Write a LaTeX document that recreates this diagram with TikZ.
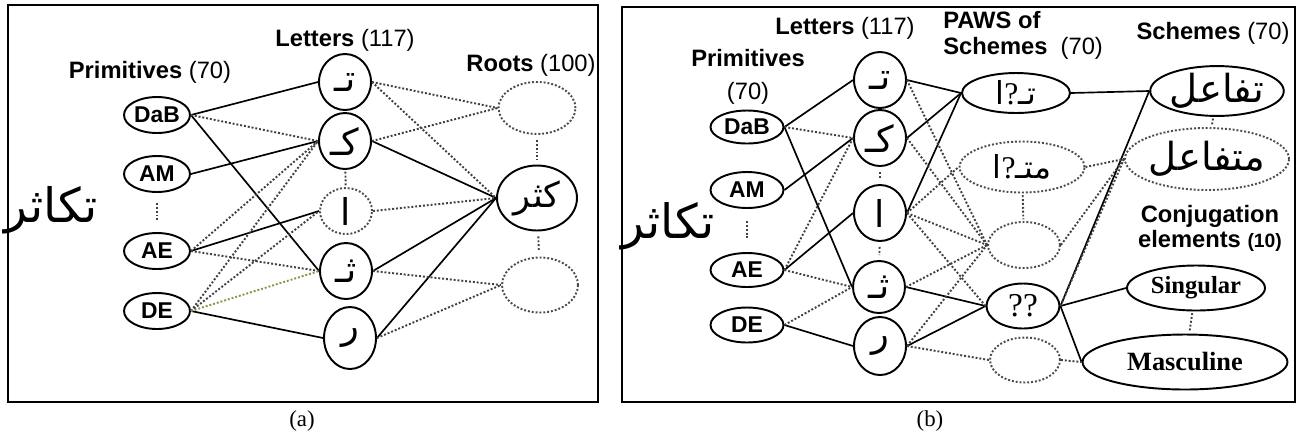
\documentclass[tikz,border=0pt]{standalone}
\usepackage{fontspec}
\setmainfont{Liberation Serif}
\setsansfont{Liberation Sans}
\newfontfamily\arabicfont[Script=Arabic]{DejaVu Sans}
\TeXXeTstate=1
\usetikzlibrary{shapes.geometric}
\definecolor{olivedot}{RGB}{135,150,75}
\newcommand{\artext}[1]{{\arabicfont\beginR #1\endR}}
\newcommand{\arletter}[1]{\hbox{\arabicfont #1}}
\newcommand{\fs}[1]{\fontsize{#1}{#1}\selectfont}

\begin{document}
\begin{tikzpicture}[x=0.02cm,y=-0.02cm,
  every node/.style={inner sep=0pt},
  frame/.style={line width=1pt},
  lab/.style={font=\fs{13.5}\sffamily\bfseries,align=center},
  solid node/.style={ellipse,draw,line width=1.1pt},
  dot node/.style={ellipse,draw=black!70,line width=1.1pt,dash pattern=on 1.1pt off 1.1pt},
  prim node/.style={solid node,font=\fs{13}\sffamily\bfseries,
    minimum width=1.32cm,minimum height=0.72cm},
  letter node/.style={solid node,font=\arabicfont\fs{21},
    minimum width=1.04cm,minimum height=1.12cm},
  letter dot/.style={dot node,font=\arabicfont\fs{21},
    minimum width=1.04cm,minimum height=0.92cm},
  word node/.style={font=\arabicfont\fs{20}},
  link/.style={line width=0.95pt},
  dlink/.style={line width=1.1pt,draw=black!75,dash pattern=on 1.1pt off 1.1pt},
  glink/.style={dlink,draw=olivedot}]

  \useasboundingbox (0,0) rectangle (1299,441);

  % (a) primitives -> letters -> roots
  \draw[frame] (8,5) rectangle (598,402);
  \node[lab] (a_primlab) at (150,72) {Primitives \textmd{(70)}};
  \node[lab] (a_letlab) at (345,40) {Letters \textmd{(117)}};
  \node[lab] (a_rootlab) at (531,65) {Roots \textmd{(100)}};
  \node[font=\fs{27}] (a_word) at (51,210) {\artext{تكاثر}};

  \node[prim node] (a_dab) at (157,115) {DaB};
  \node[prim node] (a_am) at (157,174) {AM};
  \node[prim node] (a_ae) at (157,251) {AE};
  \node[prim node] (a_de) at (157,311) {DE};

  \node[letter node] (a_t) at (345,82) {\arletter{تـ}};
  \node[letter node] (a_k) at (345,141) {\arletter{كـ}};
  \node[letter dot] (a_a) at (346,211) {\arletter{ا}};
  \node[letter node] (a_th) at (346,271) {\arletter{ثـ}};
  \node[letter node,minimum height=1.24cm] (a_r) at (350,338) {\arletter{ر}};

  \node[dot node,minimum width=1.54cm,minimum height=1.04cm] (a_root1) at (537,108) {};
  \node[solid node,word node,minimum width=1.6cm,minimum height=1.3cm] (a_root2) at (537,198) {\artext{كثر}};
  \node[dot node,minimum width=1.52cm,minimum height=1.1cm] (a_root3) at (540,285) {};

  \path[link] (a_dab.east) edge (a_t.west) edge (a_th.west)
    (a_am.east) edge (a_k.west)
    (a_ae.east) edge (a_a.west)
    (a_de.east) edge (a_r.west)
    (a_k.east) edge (a_root2.west)
    (a_th.east) edge (a_root2.west)
    (a_r.east) edge (a_root2.west);
  \path[dlink] (a_dab.east) edge (a_k.west)
    (a_ae.east) edge (a_k.west) edge (a_th.west)
    (a_de.east) edge (a_k.west) edge (a_a.west)
    (a_t.east) edge (a_root1.west) edge (a_root2.west)
    (a_k.east) edge (a_root1.west)
    (a_a.east) edge (a_root2.west)
    (a_th.east) edge (a_root3.west)
    (a_r.east) edge (a_root3.west);
  \draw[glink] (a_de.east) -- (a_th.west);
  \path[dlink,shorten <=0.2cm,shorten >=0.2cm] (a_am) edge (a_ae);
  \path[dlink,shorten <=1pt,shorten >=1pt] (a_k) edge (a_a);
  \path[dlink,shorten <=0.1cm,shorten >=0.1cm] (a_root1) edge (a_root2)
    (a_root2) edge (a_root3);

  \node[font=\fs{13}] (a_cap) at (302,421) {(a)};

  % (b) primitives -> letters -> PAWS -> schemes / conjugation
  \draw[frame] (622,7) rectangle (1295,402);
  \node[lab,font=\fs{13.5}\sffamily\bfseries\linespread{1.4}\selectfont] (b_primlab) at (748,77) {Primitives\\\textmd{(70)}};
  \node[lab] (b_letlab) at (845,28) {Letters \textmd{(117)}};
  \node[lab,align=left,anchor=west,font=\fs{13.5}\sffamily\bfseries\linespread{1.1}\selectfont] (b_pawslab) at (943,35) {PAWS of\\Schemes \ \textmd{(70)}};
  \node[lab] (b_schlab) at (1213,33) {Schemes \textmd{(70)}};
  \node[lab,font=\fs{13.5}\sffamily\bfseries\linespread{1.05}\selectfont] (b_conjlab) at (1210,228) {Conjugation\\elements {\fs{11}(10)}};
  \node[font=\fs{27}] (b_word) at (668,226) {\artext{تكاثر}};

  \node[prim node,minimum width=1.46cm,minimum height=0.66cm] (b_dab) at (747,127) {DaB};
  \node[prim node,minimum width=1.46cm,minimum height=0.72cm] (b_am) at (747,190) {AM};
  \node[prim node,minimum width=1.46cm,minimum height=0.68cm] (b_ae) at (747,270) {AE};
  \node[prim node,minimum width=1.46cm,minimum height=0.7cm] (b_de) at (747,325) {DE};

  \node[letter node] (b_t) at (880,80) {\arletter{تـ}};
  \node[letter node] (b_k) at (880,138) {\arletter{كـ}};
  \node[letter node] (b_a) at (880,213) {\arletter{ا}};
  \node[letter node,minimum height=1.04cm] (b_th) at (879,287) {\arletter{ثـ}};
  \node[letter node,minimum height=1.16cm] (b_r) at (880,346) {\arletter{ر}};

  \node[solid node,minimum width=2.16cm,minimum height=0.8cm,font=\fs{18}] (b_p1) at (1016,93)
    {\arletter{ا}\hbox{?}\arletter{تـ}};
  \node[dot node,minimum width=2.5cm,minimum height=1.02cm,font=\fs{18}] (b_p2) at (1022,167)
    {\arletter{ا}\hbox{?}\arletter{متـ}};
  \node[dot node,minimum width=1.44cm,minimum height=0.92cm] (b_p3) at (1024,245) {};
  \node[solid node,minimum width=1.46cm,minimum height=0.9cm,font=\fs{19}] (b_p4) at (1023,306) {??};
  \node[dot node,minimum width=1.4cm,minimum height=0.9cm] (b_p5) at (1025,360) {};

  \node[solid node,word node,font=\arabicfont\fs{22},minimum width=2.3cm,minimum height=0.96cm] (b_s1) at (1217,91) {\artext{تفاعل}};
  \node[dot node,word node,font=\arabicfont\fs{22},minimum width=2.62cm,minimum height=1.24cm] (b_s2) at (1207,159) {\artext{متفاعل}};
  \node[solid node,font=\fs{14}\bfseries,minimum width=2.76cm,minimum height=0.9cm] (b_c1) at (1196,288) {Singular};
  \node[solid node,font=\fs{15}\bfseries,minimum width=4.1cm,minimum height=1.1cm] (b_c2) at (1185,362) {Masculine};

  \path[link] (b_dab.east) edge (b_t.west) edge (b_th.west)
    (b_am.east) edge (b_k.west)
    (b_ae.east) edge (b_a.west)
    (b_de.east) edge (b_r.west)
    (b_t.east) edge (b_p1.west)
    (b_k.east) edge (b_p1.west)
    (b_a.east) edge (b_p1.west)
    (b_th.east) edge (b_p4.west)
    (b_r.east) edge (b_p4.west)
    (b_p1.east) edge (b_s1.west)
    (b_p4.east) edge (b_s1.west) edge (b_c1.west) edge (b_c2.west);
  \path[dlink] (b_dab.east) edge (b_k.west)
    (b_ae.east) edge (b_k.west) edge (b_th.west)
    (b_de.east) edge (b_th.west)
    (b_t.east) edge (b_p3.west)
    (b_k.east) edge (b_p3.west)
    (b_a.east) edge (b_p2.west) edge (b_p3.west) edge (b_p4.west)
    (b_th.east) edge (b_p3.west)
    (b_r.east) edge (b_p3.west) edge (b_p5.west)
    (b_p2.east) edge (b_s2.west)
    (b_p3.east) edge (b_s2.west)
    (b_p4.east) edge (b_s2.west)
    (b_p5.east) edge (b_c2.west);
  \path[dlink,shorten <=0.24cm,shorten >=0.24cm] (b_am) edge (b_ae);
  \path[dlink,shorten <=0.1cm,shorten >=0.1cm] (b_k) edge (b_a)
    (b_a) edge (b_th);
  \path[dlink,shorten <=1pt,shorten >=1pt] (b_p2) edge (b_p3)
    (b_s1) edge (b_s2) (b_c1) edge (b_c2);

  \node[font=\fs{13}] (b_cap) at (930,421) {(b)};
\end{tikzpicture}
\end{document}
